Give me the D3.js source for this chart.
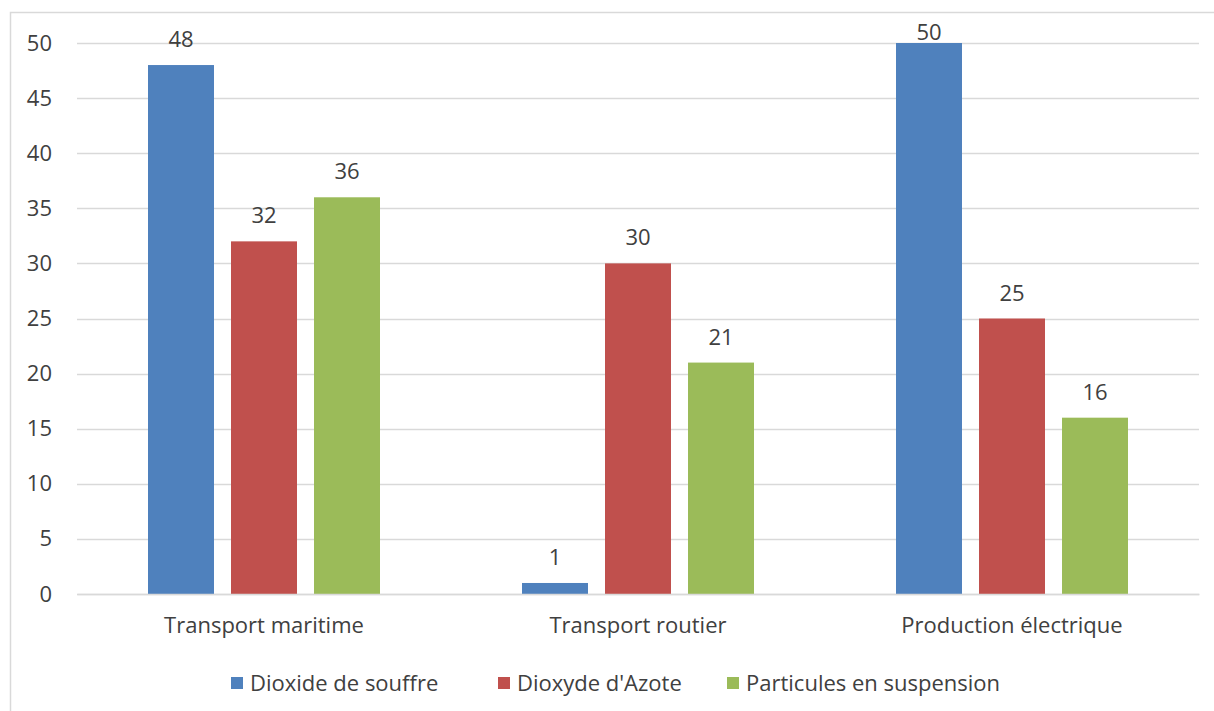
<!DOCTYPE html>
<html>
<head>
<meta charset="utf-8">
<script src="https://cdn.jsdelivr.net/npm/d3@7"></script>
<style>
  body { margin: 0; background: #fff; }
  svg text { font-family: "Open Sans", "Liberation Sans", sans-serif; fill: #404040; }
</style>
</head>
<body>
<div id="chart"></div>
<script>
const WIDTH = 1214, HEIGHT = 711;
const MARGIN = {left: 77, right: 15, top: 43, bottom: 117};

const categories = ["Transport maritime", "Transport routier", "Production électrique"];
const seriesNames = ["Dioxide de souffre", "Dioxyde d'Azote", "Particules en suspension"];
const so2 = [48, 1, 50];
const no2 = [32, 30, 25];
const particles = [36, 21, 16];
const yTicks = [0, 5, 10, 15, 20, 25, 30, 35, 40, 45, 50];
const colors = ["#4F81BD", "#C0504D", "#9BBB59"];

const series = [so2, no2, particles];
const data = categories.map((c, i) => ({cat: c, values: series.map(s => s[i])}));

const svg = d3.select("#chart").append("svg")
    .attr("width", WIDTH)
    .attr("height", HEIGHT);

// outer chart border (frame)
svg.append("path")
    .attr("d", `M10.5,${HEIGHT} V12.5 H${WIDTH}`)
    .attr("fill", "none")
    .attr("stroke", "#d9d9d9")
    .attr("stroke-width", 1.5);

const innerH = 594 - MARGIN.top;

const g = svg.append("g").attr("transform", `translate(${MARGIN.left},${MARGIN.top})`);

const x = d3.scaleBand().domain(categories).range([0, 1122]);
const xs = d3.scaleBand().domain(d3.range(3)).range([x.bandwidth() / 2 - 116, x.bandwidth() / 2 + 116]).paddingInner(0.205);
const y = d3.scaleLinear().domain([0, 50]).range([innerH, 0]);

// gridlines
g.append("g")
    .selectAll("line")
    .data(yTicks)
    .join("line")
    .attr("x1", 0)
    .attr("x2", x.range()[1])
    .attr("y1", d => Math.round(y(d)) + 0.5)
    .attr("y2", d => Math.round(y(d)) + 0.5)
    .attr("stroke", "#d9d9d9")
    .attr("stroke-width", 1.5);

// y tick labels
const yAxis = g.append("g")
    .call(d3.axisLeft(y).tickValues(yTicks).tickSize(0).tickPadding(25));
yAxis.select(".domain").remove();
yAxis.selectAll("text").style("font-size", "22px").attr("fill", "#404040");

// bars
const groups = g.selectAll("g.cat")
    .data(data)
    .join("g")
    .attr("class", "cat")
    .attr("transform", d => `translate(${x(d.cat)},0)`);

groups.selectAll("rect")
    .data(d => d.values)
    .join("rect")
    .attr("x", (d, i) => xs(i))
    .attr("width", xs.bandwidth())
    .attr("y", d => y(d))
    .attr("height", d => y(0) - y(d))
    .attr("fill", (d, i) => colors[i]);

// value labels (kept inside the chart frame, like Excel does for the top bar)
groups.selectAll("text.value")
    .data(d => d.values)
    .join("text")
    .attr("class", "value")
    .attr("x", (d, i) => xs(i) + xs.bandwidth() / 2)
    .attr("y", d => Math.max(y(d) - 18, -3))
    .attr("text-anchor", "middle")
    .style("font-size", "22px")
    .text(d => d);

// category labels
const xAxis = g.append("g")
    .attr("transform", `translate(0,${innerH})`)
    .call(d3.axisBottom(x).tickSize(0).tickPadding(23));
xAxis.select(".domain")
    .attr("stroke", "#d9d9d9")
    .attr("stroke-width", 1.5);
xAxis.selectAll("text").style("font-size", "22px").attr("fill", "#404040");

// legend
const legendX = [231, 498, 727];
const legend = svg.append("g").attr("class", "legend");
const items = legend.selectAll("g")
    .data(seriesNames)
    .join("g")
    .attr("transform", (d, i) => `translate(${legendX[i]},683)`);
items.append("rect")
    .attr("x", 0)
    .attr("y", -6)
    .attr("width", 12)
    .attr("height", 12)
    .attr("fill", (d, i) => colors[i]);
items.append("text")
    .attr("x", 19)
    .attr("y", 8)
    .style("font-size", "22px")
    .text(d => d);
</script>
</body>
</html>
